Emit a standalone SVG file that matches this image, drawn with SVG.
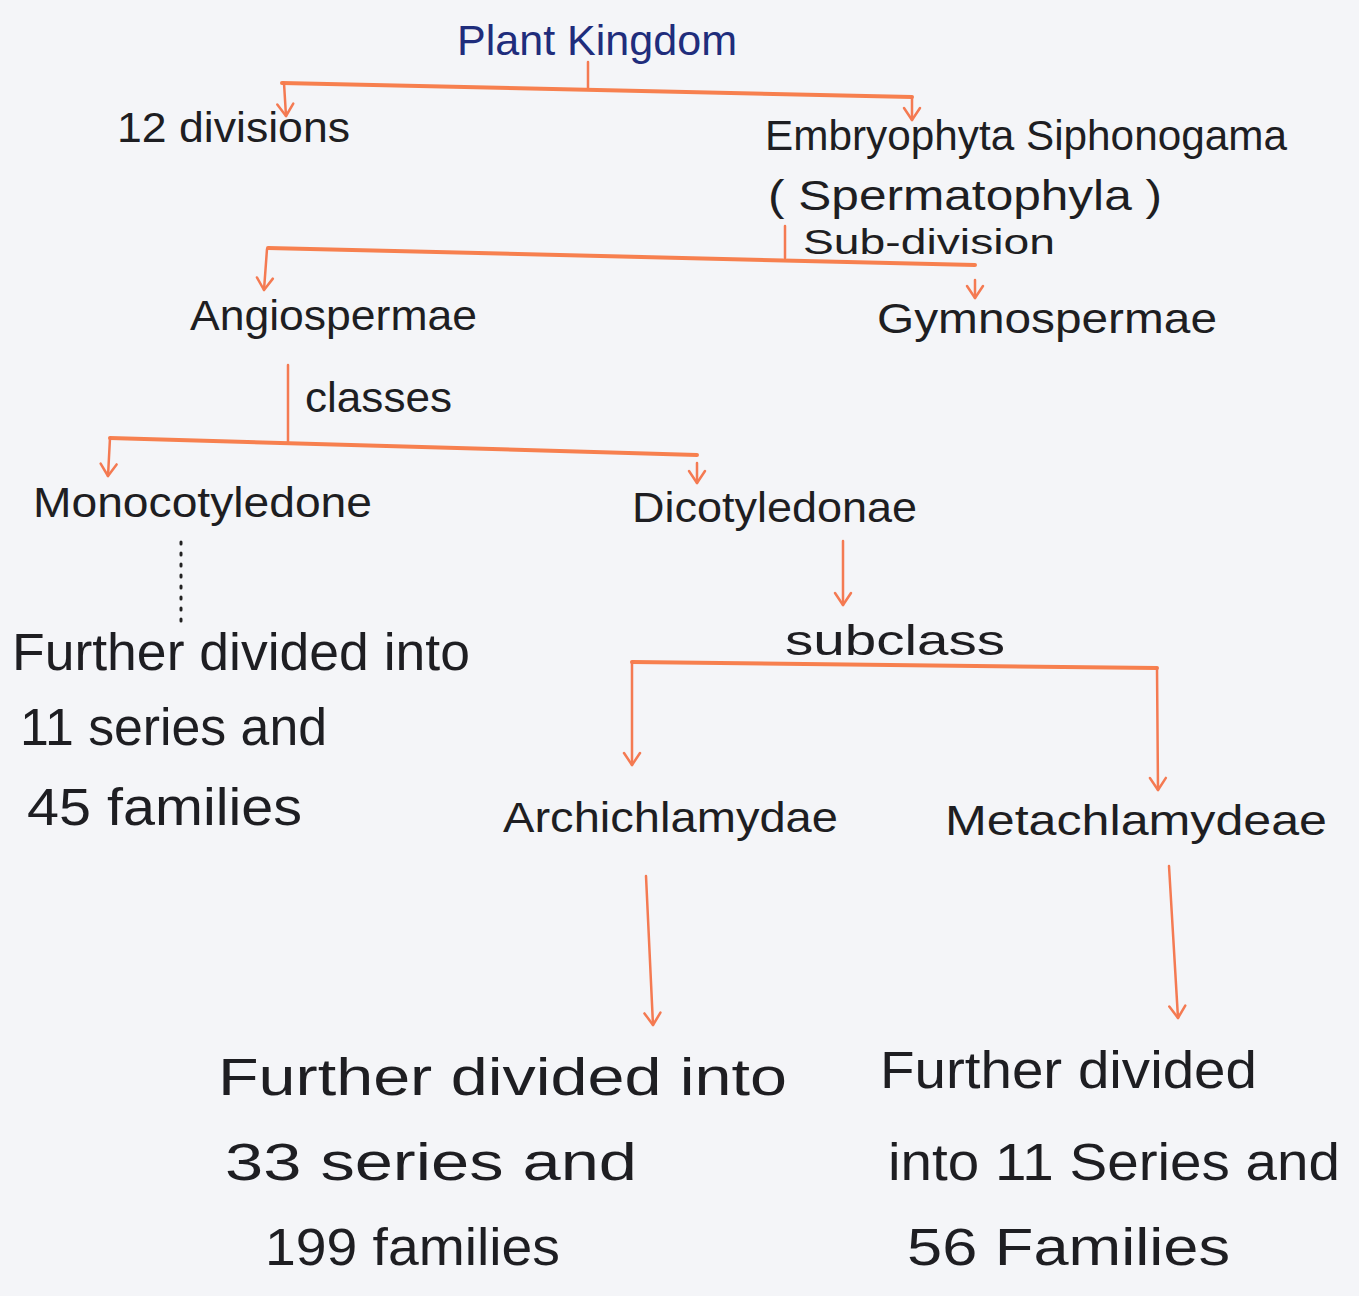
<svg xmlns="http://www.w3.org/2000/svg" width="1359" height="1296" viewBox="0 0 1359 1296">
<defs>
<marker id="arr" viewBox="0 0 20 20" refX="18" refY="10" markerWidth="20" markerHeight="20" markerUnits="userSpaceOnUse" orient="auto">
<path d="M6,2 L18,10 L6,18" fill="none" stroke="#f47a52" stroke-width="2.5" stroke-linecap="round" stroke-linejoin="round"/>
</marker>
<style>
.bg{fill:#f4f5f8}
.t{font-family:"Liberation Sans","DejaVu Sans",sans-serif;fill:#1e1e22;font-size:43px}
.b{font-size:51px}
.s{font-size:35px}
.title{fill:#1f2d7c}
.ln{fill:none;stroke:#f7804f;stroke-width:4;stroke-linecap:round}
.thin{fill:none;stroke:#f47a52;stroke-width:2.5;stroke-linecap:round}
.dot{fill:none;stroke:#222;stroke-width:3;stroke-dasharray:2 9;stroke-linecap:round}
</style>
</defs>
<rect class="bg" x="0" y="0" width="1359" height="1296"/>
<g id="connectors">
<line class="thin" x1="588" y1="62" x2="588" y2="88"/>
<path class="ln" d="M282,83 L912,97"/>
<line class="thin" x1="284" y1="83" x2="286" y2="116" marker-end="url(#arr)"/>
<line class="thin" x1="912" y1="97" x2="912" y2="120" marker-end="url(#arr)"/>
<line class="thin" x1="785" y1="226" x2="785" y2="258"/>
<path class="ln" d="M268,248 L975,265"/>
<line class="thin" x1="267" y1="249" x2="264" y2="290" marker-end="url(#arr)"/>
<line class="thin" x1="975" y1="280" x2="975" y2="298" marker-end="url(#arr)"/>
<line class="thin" x1="288" y1="365" x2="288" y2="442"/>
<path class="ln" d="M110,438 L697,455"/>
<line class="thin" x1="110" y1="438" x2="108" y2="476" marker-end="url(#arr)"/>
<line class="thin" x1="697" y1="463" x2="697" y2="483" marker-end="url(#arr)"/>
<line class="dot" x1="181" y1="542" x2="181" y2="630"/>
<line class="thin" x1="843" y1="541" x2="843" y2="605" marker-end="url(#arr)"/>
<path class="ln" d="M632,662 L1157,668"/>
<line class="thin" x1="632" y1="662" x2="632" y2="765" marker-end="url(#arr)"/>
<line class="thin" x1="1157" y1="668" x2="1158" y2="790" marker-end="url(#arr)"/>
<line class="thin" x1="646" y1="876" x2="653" y2="1025" marker-end="url(#arr)"/>
<line class="thin" x1="1169" y1="866" x2="1178" y2="1018" marker-end="url(#arr)"/>
</g>
<g id="plant-kingdom"><text class="t title" x="457" y="55" textLength="280" lengthAdjust="spacingAndGlyphs">Plant Kingdom</text></g>
<g id="divisions"><text class="t" x="117" y="142" textLength="233" lengthAdjust="spacingAndGlyphs">12 divisions</text></g>
<g id="embryophyta">
<text class="t" x="765" y="150" textLength="522" lengthAdjust="spacingAndGlyphs">Embryophyta Siphonogama</text>
<text class="t" x="768" y="210" font-size="40" textLength="394" lengthAdjust="spacingAndGlyphs">( Spermatophyla )</text>
</g>
<g id="subdivision-label"><text class="t s" x="803" y="254" textLength="252" lengthAdjust="spacingAndGlyphs">Sub-division</text></g>
<g id="angiospermae"><text class="t" x="190" y="330" textLength="287" lengthAdjust="spacingAndGlyphs">Angiospermae</text></g>
<g id="gymnospermae"><text class="t" x="877" y="333" textLength="340" lengthAdjust="spacingAndGlyphs">Gymnospermae</text></g>
<g id="classes-label"><text class="t" x="305" y="412" textLength="147" lengthAdjust="spacingAndGlyphs">classes</text></g>
<g id="monocotyledone"><text class="t" x="33" y="517" textLength="339" lengthAdjust="spacingAndGlyphs">Monocotyledone</text></g>
<g id="dicotyledonae"><text class="t" x="632" y="522" textLength="285" lengthAdjust="spacingAndGlyphs">Dicotyledonae</text></g>
<g id="mono-detail">
<text class="t b" x="12" y="670" textLength="458" lengthAdjust="spacingAndGlyphs">Further divided into</text>
<text class="t b" x="20" y="745" textLength="307" lengthAdjust="spacingAndGlyphs">11 series and</text>
<text class="t b" x="27" y="825" textLength="275" lengthAdjust="spacingAndGlyphs">45 families</text>
</g>
<g id="subclass-label"><text class="t" x="785" y="655" textLength="220" lengthAdjust="spacingAndGlyphs">subclass</text></g>
<g id="archichlamydae"><text class="t" x="503" y="832" textLength="335" lengthAdjust="spacingAndGlyphs">Archichlamydae</text></g>
<g id="metachlamydeae"><text class="t" x="945" y="835" textLength="382" lengthAdjust="spacingAndGlyphs">Metachlamydeae</text></g>
<g id="archi-detail">
<text class="t b" x="218" y="1095" textLength="569" lengthAdjust="spacingAndGlyphs">Further divided into</text>
<text class="t b" x="225" y="1180" textLength="412" lengthAdjust="spacingAndGlyphs">33 series and</text>
<text class="t b" x="265" y="1265" textLength="295" lengthAdjust="spacingAndGlyphs">199 families</text>
</g>
<g id="meta-detail">
<text class="t b" x="880" y="1088" textLength="377" lengthAdjust="spacingAndGlyphs">Further divided</text>
<text class="t b" x="888" y="1180" textLength="452" lengthAdjust="spacingAndGlyphs">into 11 Series and</text>
<text class="t b" x="907" y="1265" textLength="323" lengthAdjust="spacingAndGlyphs">56 Families</text>
</g>
</svg>
